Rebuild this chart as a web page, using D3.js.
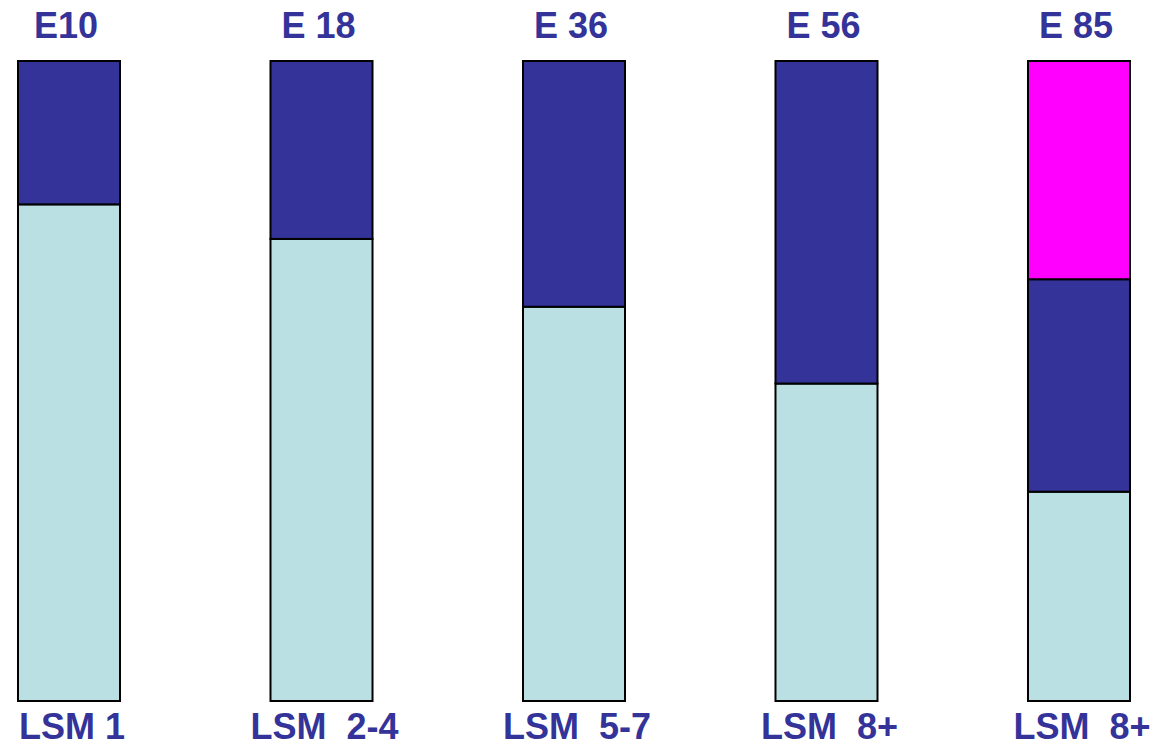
<!DOCTYPE html>
<html>
<head>
<meta charset="utf-8">
<script src="https://cdn.jsdelivr.net/npm/d3@7"></script>
<style>
  html, body { margin: 0; padding: 0; background: #fff; }
  svg { display: block; }
  text { white-space: pre; }
</style>
</head>
<body>
<svg id="chart" width="1157" height="747"></svg>
<script>
// Fuel blends and market segments, one stacked column each
const blends = ["E10", "E 18", "E 36", "E 56", "E 85"];
const segments = ["LSM 1", "LSM  2-4", "LSM  5-7", "LSM  8+", "LSM  8+"];

// Share of each column (percent), bottom to top
const lightShare   = [77.6, 72.2, 61.6, 49.6, 32.7];
const darkShare    = [22.4, 27.8, 38.4, 50.4, 33.2];
const magentaShare = [0, 0, 0, 0, 34.1];

const seriesKeys = ["light", "dark", "magenta"];
const seriesColors = { light: "#BBE0E3", dark: "#333399", magenta: "#FF00FF" };

const rows = blends.map((b, i) => ({
  blend: b,
  light: lightShare[i],
  dark: darkShare[i],
  magenta: magentaShare[i]
}));

const svg = d3.select("#chart");

const x = d3.scaleBand()
  .domain(blends)
  .range([18, 1130])
  .paddingInner(0.596)
  .paddingOuter(0);

const y = d3.scaleLinear()
  .domain([0, 100])
  .range([701, 61]);

const stack = d3.stack().keys(seriesKeys);
const layers = stack(rows);

svg.append("g")
  .selectAll("g")
  .data(layers)
  .join("g")
    .attr("fill", d => seriesColors[d.key])
  .selectAll("rect")
  .data(d => d.filter(p => p[1] - p[0] > 0))
  .join("rect")
    .attr("x", d => x(d.data.blend))
    .attr("width", x.bandwidth())
    .attr("y", d => y(d[1]))
    .attr("height", d => y(d[0]) - y(d[1]))
    .attr("stroke", "#000")
    .attr("stroke-width", 2);

const labelStyle = sel => sel
  .attr("text-anchor", "middle")
  .attr("font-family", "'Liberation Sans', Arial, sans-serif")
  .attr("font-weight", "bold")
  .attr("font-size", 36)
  .attr("fill", "#333399");

// Blend names above the columns
svg.append("g")
  .selectAll("text")
  .data(blends)
  .join("text")
    .attr("x", d => x(d) + x.bandwidth() / 2 - 3)
    .attr("y", 38)
    .text(d => d)
    .call(labelStyle);

// Segment names below the columns
svg.append("g")
  .selectAll("text")
  .data(segments)
  .join("text")
    .attr("x", (d, i) => x(blends[i]) + x.bandwidth() / 2 + 3)
    .attr("y", 739)
    .text(d => d)
    .call(labelStyle);
</script>
</body>
</html>
